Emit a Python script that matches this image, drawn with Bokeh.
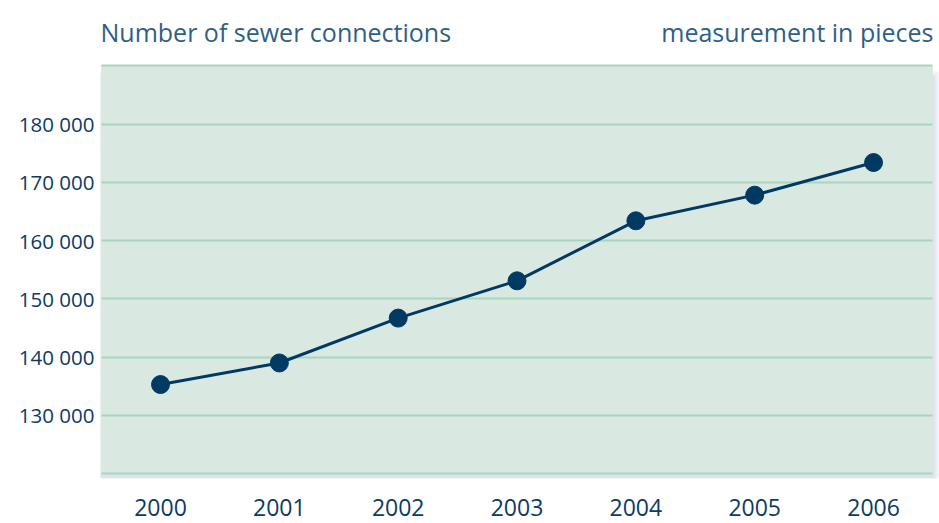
from bokeh.plotting import figure
from bokeh.models import FixedTicker, Range1d, Label, BoxAnnotation
from bokeh.embed import file_html
from bokeh.resources import INLINE

# Sewer connections per year (pieces)
years = ["2000", "2001", "2002", "2003", "2004", "2005", "2006"]
connections = [135300, 139000, 146700, 153100, 163400, 167800, 173400]

# Value axis ticks and their labels
y_ticks = [120000, 130000, 140000, 150000, 160000, 170000, 180000, 190000]
y_tick_labels = ["", "130 000", "140 000", "150 000", "160 000", "170 000", "180 000", ""]

FONT = "Open Sans"
INK = "#003a63"
LABEL_INK = "#0d3b62"
TITLE_INK = "#2f5f86"
PANEL = "#d9e9e1"
GRID = "#a9d5bf"

idx = list(range(len(years)))
box_lo, box_hi = y_ticks[0], y_ticks[-1]
x_lo, x_hi = -0.5, len(years) - 0.5

# pixel scale of the frame (used for the soft shadow)
PX_X = 1 / 118.8
PX_Y = 10000 / 58.3

p = figure(
    width=939, height=523,
    x_range=Range1d(-0.505, 6.555),
    y_range=Range1d(119177, 199485),
    output_backend="svg", toolbar_location=None,
    min_border_left=100, min_border_right=0,
    min_border_top=10, min_border_bottom=45,
)
p.background_fill_color = "white"
p.border_fill_color = "white"
p.outline_line_color = None

# soft drop shadow, heavier below the panel
for k in range(1, 8):
    p.add_layout(BoxAnnotation(
        left=x_lo - k * 2.0 * PX_X, right=x_hi + k * 1.0 * PX_X,
        bottom=box_lo - (k * 2.6 + 1) * PX_Y, top=box_hi - (12 - k) * PX_Y,
        fill_color="#7d8fb0", fill_alpha=0.04, line_color=None, level="image"))

# the shaded panel
p.add_layout(BoxAnnotation(left=x_lo, right=x_hi, bottom=box_lo, top=box_hi,
                           fill_color=PANEL, fill_alpha=1, line_color=None,
                           level="image"))

# horizontal guide lines
p.xgrid.grid_line_color = None
p.ygrid.grid_line_color = GRID
p.ygrid.grid_line_width = 2
p.ygrid.cross_bounds = (x_lo, x_hi)
p.yaxis.ticker = FixedTicker(ticks=y_ticks)
p.yaxis.major_label_overrides = dict(zip(y_ticks, y_tick_labels))
p.xaxis.ticker = FixedTicker(ticks=idx)
p.xaxis.major_label_overrides = dict(zip(idx, years))

for ax in (p.xaxis, p.yaxis):
    ax.axis_line_color = None
    ax.major_tick_line_color = None
    ax.minor_tick_line_color = None
    ax.major_label_text_font = FONT
    ax.major_label_text_color = LABEL_INK
p.yaxis.major_label_text_font_size = "20.5px"
p.xaxis.major_label_text_font_size = "23px"
p.yaxis.major_label_standoff = 0
p.xaxis.major_label_standoff = 14

p.line(idx, connections, line_color=INK, line_width=3)
p.scatter(idx, connections, size=18, fill_color=INK, line_color=INK)

p.add_layout(Label(x=0, y=447, x_units="screen", y_units="screen",
                   text="Number of sewer connections", text_font=FONT,
                   text_font_size="25px", text_color=TITLE_INK,
                   text_baseline="alphabetic"))
p.add_layout(Label(x=833, y=447, x_units="screen", y_units="screen",
                   text="measurement in pieces", text_font=FONT,
                   text_font_size="25px", text_color=TITLE_INK,
                   text_align="right", text_baseline="alphabetic"))

open("out.html", "w").write(file_html(p, INLINE))
